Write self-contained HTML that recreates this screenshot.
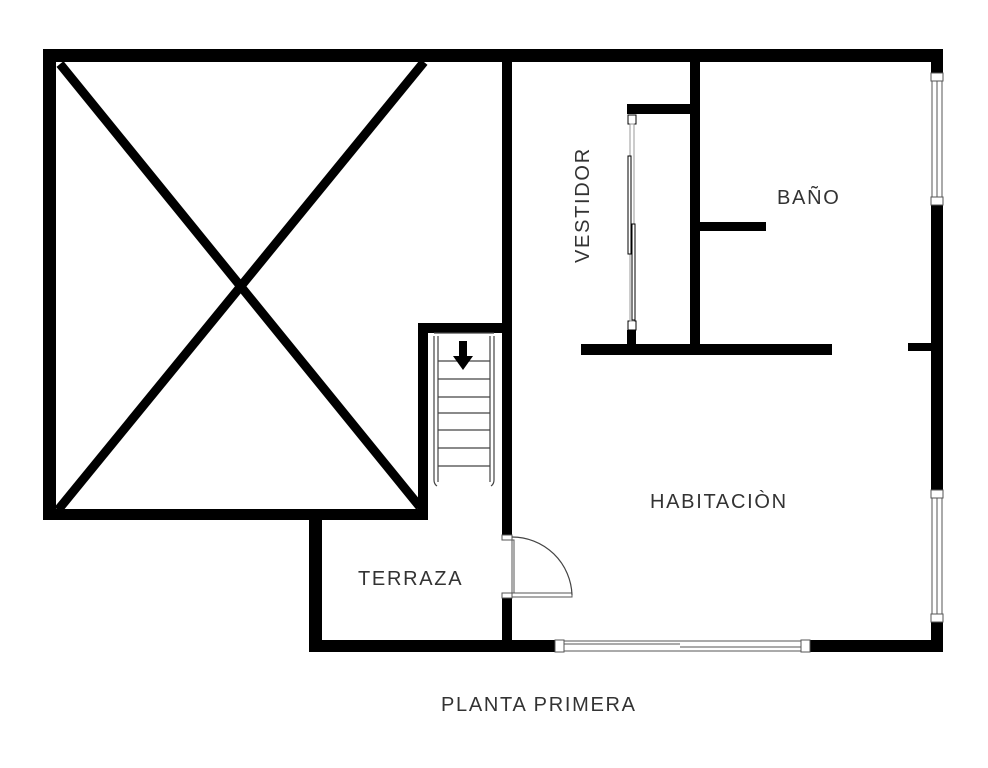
<!DOCTYPE html>
<html><head><meta charset="utf-8"><style>
html,body{margin:0;padding:0;background:#fff;}
svg{display:block;}
text{font-family:"Liberation Sans",sans-serif;fill:#333;font-size:20px;letter-spacing:1.7px;}
</style></head><body>
<svg width="988" height="768" viewBox="0 0 988 768" xmlns="http://www.w3.org/2000/svg">
<rect width="988" height="768" fill="#fff"/>
<g fill="#000">
<rect x="43" y="49" width="900" height="13"/>
<rect x="43" y="49" width="13" height="471"/>
<rect x="43" y="509" width="385" height="11"/>
<rect x="309" y="509" width="13" height="143"/>
<rect x="309" y="640" width="246" height="12"/>
<rect x="810" y="640" width="133" height="12"/>
<rect x="931" y="49" width="12" height="24"/>
<rect x="931" y="205" width="12" height="285"/>
<rect x="931" y="622" width="12" height="30"/>
<rect x="502" y="62" width="10" height="473"/>
<rect x="502" y="598" width="10" height="42"/>
<rect x="418" y="323" width="84" height="10"/>
<rect x="418" y="323" width="10" height="197"/>
<rect x="690" y="62" width="10" height="290"/>
<rect x="627" y="104" width="63" height="10"/>
<rect x="627" y="330" width="9" height="16"/>
<rect x="581" y="344" width="251" height="11"/>
<rect x="700" y="222" width="66" height="9"/>
<rect x="908" y="343" width="23" height="8"/>
</g>
<line x1="60" y1="64" x2="420" y2="507" stroke="#000" stroke-width="9"/>
<line x1="424" y1="62" x2="58" y2="510" stroke="#000" stroke-width="9"/>
<g fill="#fff" stroke="#000" stroke-width="1">
<rect x="628" y="115" width="8" height="9"/>
<rect x="628" y="321" width="8" height="9"/>
<rect x="630" y="124" width="4" height="197" fill="none" stroke="#999"/>
<rect x="628" y="156" width="3" height="98"/>
<rect x="632" y="224" width="3" height="96"/>
</g>
<g fill="#fff" stroke="#555" stroke-width="1">
<rect x="931" y="73" width="12" height="8"/>
<rect x="931" y="197" width="12" height="8"/>
<rect x="932" y="81" width="10" height="116"/>
<line x1="937" y1="81" x2="937" y2="197"/>
<rect x="931" y="490" width="12" height="8"/>
<rect x="931" y="614" width="12" height="8"/>
<rect x="932" y="498" width="10" height="116"/>
<line x1="937" y1="498" x2="937" y2="614"/>
<rect x="555" y="640" width="9" height="12"/>
<rect x="801" y="640" width="9" height="12"/>
<rect x="564" y="641" width="237" height="10"/>
<line x1="564" y1="644" x2="680" y2="644"/>
<line x1="680" y1="647" x2="801" y2="647"/>
<rect x="502" y="535" width="10" height="5"/>
<rect x="502" y="593" width="10" height="5"/>
<rect x="512" y="593" width="60" height="4"/>
<rect x="512" y="540" width="2" height="53"/>
</g>
<path d="M512 537 A60 60 0 0 1 572 595" fill="none" stroke="#444" stroke-width="1.2"/>
<g stroke="#444" stroke-width="1.2" fill="none">
<path d="M434 336 V480 q0 4 3 6 M438 336 V482"/>
<path d="M494 336 V480 q0 4 -3 6 M490 336 V482"/>
<line x1="434" y1="333" x2="494" y2="333"/>
<line x1="438" y1="361" x2="490" y2="361"/>
<line x1="438" y1="379" x2="490" y2="379"/>
<line x1="438" y1="397" x2="490" y2="397"/>
<line x1="438" y1="413" x2="490" y2="413"/>
<line x1="438" y1="430" x2="490" y2="430"/>
<line x1="438" y1="448" x2="490" y2="448"/>
<line x1="438" y1="466" x2="490" y2="466"/>
</g>
<path d="M459 341 h8 v15 h6 l-10 14 l-10 -14 h6z" fill="#000"/>
<text x="777" y="204">BAÑO</text>
<text transform="translate(589,263) rotate(-90)">VESTIDOR</text>
<text x="650" y="508">HABITACIÒN</text>
<text x="358" y="585">TERRAZA</text>
<text x="441" y="711">PLANTA PRIMERA</text>
</svg>
</body></html>
